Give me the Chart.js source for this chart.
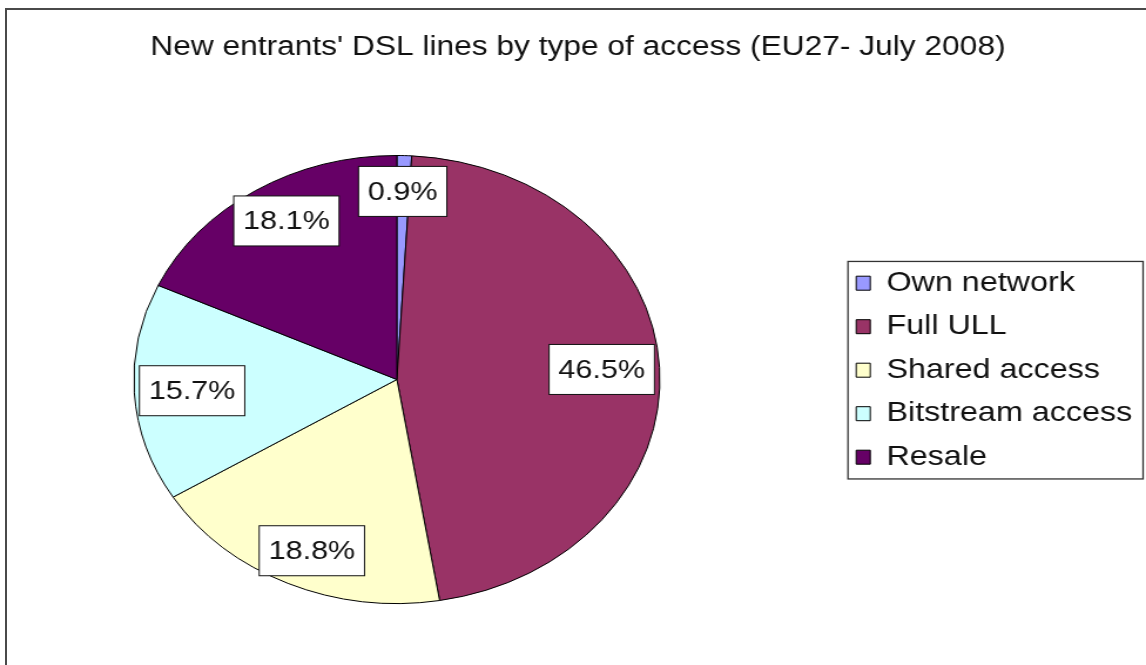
<!DOCTYPE html>
<html>
<head>
<meta charset="utf-8">
<title>New entrants' DSL lines by type of access</title>
<script src="https://cdn.jsdelivr.net/npm/chart.js@4.4.1/dist/chart.umd.min.js"></script>
<style>
	html, body {
		margin: 0;
		padding: 0;
		background: #ffffff;
		overflow: hidden;
	}

	#frame {
		position: absolute;
		left: 5px;
		top: 8px;
		width: 2000px;
		height: 2000px;
		border-top: 2px solid #4a4a4a;
		border-left: 2px solid #4a4a4a;
	}

	#myChart {
		position: absolute;
		left: 0;
		top: 0;
	}
</style>
</head>
<body>
	<div id="frame"></div>
	<!-- drawn at 976 wide and stretched to 1146, like the original picture -->
	<canvas id="myChart" width="976" height="665" style="width:1146px;height:665px"></canvas>

	<script>
		const titleText = "New entrants' DSL lines by type of access (EU27- July 2008)";
		const categories = ['Own network', 'Full ULL', 'Shared access', 'Bitstream access', 'Resale'];
		const shares = [0.9, 46.5, 18.8, 15.7, 18.1];

		const sliceColors = ['#9999ff', '#993366', '#ffffcc', '#ccffff', '#660066'];
		const fontFamily = "'Liberation Sans', Arial, sans-serif";

		// pie box inside the (unstretched) canvas
		const pieCenterX = 338;
		const pieCenterY = 379.5;
		const pieHalfHeight = 224.5;

		const pieArea = {
			id: 'pieArea',
			afterLayout(chart) {
				const a = chart.chartArea;
				a.left = pieCenterX - 260;
				a.right = pieCenterX + 260;
				a.top = pieCenterY - pieHalfHeight;
				a.bottom = pieCenterY + pieHalfHeight;
				a.width = a.right - a.left;
				a.height = a.bottom - a.top;
			}
		};

		// white boxed percentage labels, placed along each slice's middle angle
		const sliceLabels = {
			id: 'sliceLabels',
			afterDatasetsDraw(chart) {
				const ctx = chart.ctx;
				const meta = chart.getDatasetMeta(0);
				ctx.save();
				ctx.font = '26px ' + fontFamily;
				ctx.textAlign = 'center';
				ctx.textBaseline = 'middle';
				meta.data.forEach((arc, i) => {
					const p = arc.getProps(['x', 'y', 'startAngle', 'endAngle', 'outerRadius'], true);
					const mid = (p.startAngle + p.endAngle) / 2;
					const cx = p.x + Math.cos(mid) * p.outerRadius * 0.78;
					const cy = p.y + Math.sin(mid) * p.outerRadius * 0.84;
					const text = shares[i].toFixed(1) + '%';
					const w = ctx.measureText(text).width + 16;
					const h = 50;
					ctx.fillStyle = '#ffffff';
					ctx.fillRect(cx - w / 2, cy - h / 2, w, h);
					ctx.lineWidth = 1;
					ctx.strokeStyle = '#111111';
					ctx.strokeRect(cx - w / 2, cy - h / 2, w, h);
					ctx.fillStyle = '#111111';
					ctx.fillText(text, cx, cy + 1);
				});
				ctx.restore();
			}
		};

		// frame round the legend
		const legendFrame = {
			id: 'legendFrame',
			afterDraw(chart) {
				const boxes = chart.legend.legendHitBoxes;
				if (!boxes || !boxes.length) return;
				const ctx = chart.ctx;
				const left = boxes[0].left - 7;
				const top = boxes[0].top - 8;
				const last = boxes[boxes.length - 1];
				const bottom = last.top + last.height + 8;
				const right = chart.width - 2.5;
				ctx.save();
				ctx.lineWidth = 1.3;
				ctx.strokeStyle = '#333333';
				ctx.strokeRect(left, top, right - left, bottom - top);
				ctx.restore();
			}
		};

		const data = {
			labels: categories,
			datasets: [{
				data: shares,
				backgroundColor: sliceColors,
				borderColor: '#000000',
				borderWidth: 1
			}]
		};

		const config = {
			type: 'pie',
			data: data,
			plugins: [pieArea, sliceLabels, legendFrame],
			options: {
				responsive: false,
				animation: false,
				devicePixelRatio: 1,
				layout: {
					padding: { top: 0, left: 10, right: 1.7, bottom: 75 }
				},
				plugins: {
					title: {
						display: true,
						text: titleText,
						color: '#111111',
						font: { family: fontFamily, size: 27, weight: 'normal', lineHeight: 1.2 },
						padding: { top: 31, bottom: 87 }
					},
					legend: {
						position: 'right',
						fullSize: false,
						labels: {
							color: '#111111',
							font: { family: fontFamily, size: 27.5 },
							boxWidth: 12,
							boxHeight: 14,
							padding: 16
						}
					},
					tooltip: { enabled: false }
				}
			}
		};

		const myChart = new Chart(
			document.getElementById('myChart'),
			config
		);
	</script>
</body>
</html>
